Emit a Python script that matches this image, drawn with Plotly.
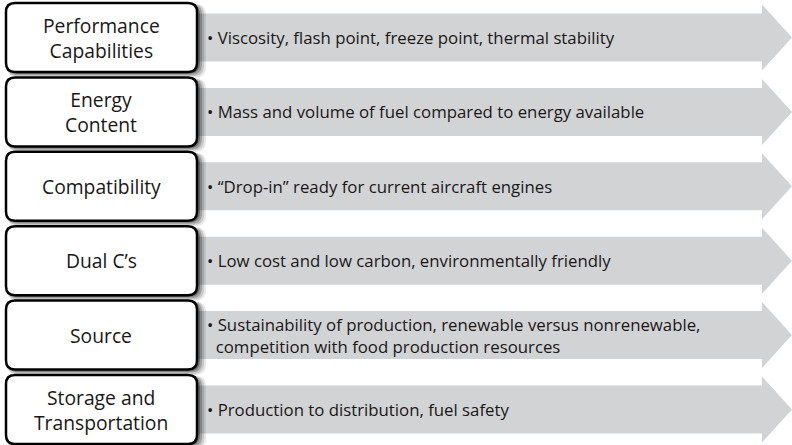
import plotly.graph_objects as go

categories = ["Performance<br>Capabilities", "Energy<br>Content", "Compatibility",
              "Dual C’s", "Source", "Storage and<br>Transportation"]
descriptions = [
    "• Viscosity, flash point, freeze point, thermal stability",
    "• Mass and volume of fuel compared to energy available",
    "• “Drop-in” ready for current aircraft engines",
    "• Low cost and low carbon, environmentally friendly",
    "• Sustainability of production, renewable versus nonrenewable,<br>  competition with food production resources",
    "• Production to distribution, fuel safety",
]

W, H = 792, 445
row_h = 74.4
top0 = 3
box_h = 69
box_l, box_r = 6, 197
r = 9
FONT = "Open Sans"

def rrect(x0, y0, x1, y1, rad):
    return (f"M {x0+rad},{y0} L {x1-rad},{y0} Q {x1},{y0} {x1},{y0+rad} "
            f"L {x1},{y1-rad} Q {x1},{y1} {x1-rad},{y1} L {x0+rad},{y1} "
            f"Q {x0},{y1} {x0},{y1-rad} L {x0},{y0+rad} Q {x0},{y0} {x0+rad},{y0} Z")

shapes = []
annotations = []
for i, (cat, desc) in enumerate(zip(categories, descriptions)):
    y0 = top0 + i * row_h
    y1 = y0 + box_h
    cy = (y0 + y1) / 2
    # arrow
    bt, bb = cy - 24, cy + 24
    ht, hb = cy - 33, cy + 33
    path = (f"M {box_r},{bt} L 762,{bt} L 762,{ht} L 792,{cy} L 762,{hb} "
            f"L 762,{bb} L {box_r},{bb} Z")
    shapes.append(dict(type="path", path=path, fillcolor="#d2d3d5",
                       line=dict(width=0), layer="below"))
    # shadow
    for k, op in [(9, 0.10), (7, 0.15), (5, 0.22), (3, 0.35)]:
        shapes.append(dict(type="path", path=rrect(box_l + 1, y0 + 1, box_r + k, y1 + k * 0.6, r + 2),
                           fillcolor=f"rgba(20,20,20,{op})", line=dict(width=0)))
    # box
    shapes.append(dict(type="path", path=rrect(box_l, y0, box_r, y1, r),
                       fillcolor="white", line=dict(color="black", width=2.5)))
    annotations.append(dict(x=(box_l + box_r) / 2 - 0.5, y=cy, text=cat, showarrow=False,
                            xanchor="center", yanchor="middle",
                            font=dict(family=FONT, size=19.3, color="#1a1718")))
    annotations.append(dict(x=205, y=cy, text=desc.replace("  ", "&nbsp;&nbsp;"),
                            showarrow=False, xanchor="left", yanchor="middle",
                            align="left",
                            font=dict(family=FONT, size=16.8, color="#1a1718")))

fig = go.Figure()
fig.update_layout(
    width=W, height=H, margin=dict(l=0, r=0, t=0, b=0),
    paper_bgcolor="white", plot_bgcolor="white",
    xaxis=dict(range=[0, W], visible=False, fixedrange=True),
    yaxis=dict(range=[H, 0], visible=False, fixedrange=True),
    shapes=shapes, annotations=annotations, showlegend=False,
)
fig.write_html("out.html", config={"displayModeBar": False},
               post_script="document.body.style.margin='0';document.body.style.overflow='hidden';")
